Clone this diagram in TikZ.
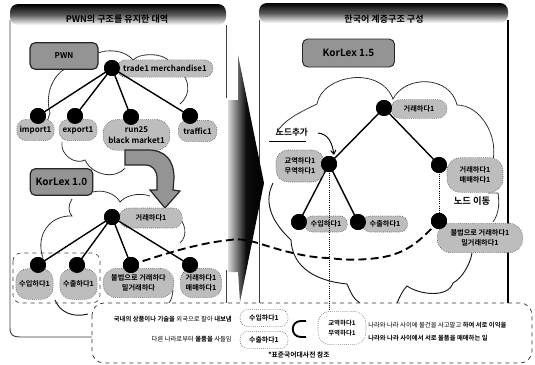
\documentclass[tikz,border=0pt]{standalone}
\usepackage{fontspec}
\setmainfont{Noto Sans CJK KR}[BoldFont={Noto Sans CJK KR Bold}]
\usetikzlibrary{arrows.meta,shadings}
\definecolor{halft}{gray}{0.74}
\definecolor{boxg}{gray}{0.58}
\tikzset{
  x=0.75pt,y=-0.75pt,
  dot/.style={circle,fill=black,draw=black,inner sep=0pt,minimum size=11.5pt},
  lbl/.style={rounded corners=7pt,fill=halft,draw=black!70,densely dotted,line width=0.45pt,inner sep=0pt,align=center,font=\fontsize{5.4pt}{7.4pt}\selectfont\bfseries},
  latin/.style={font=\fontsize{6pt}{8pt}\selectfont\bfseries},
  verbox/.style={rounded corners=4pt,fill=boxg,draw=black!85,line width=0.9pt,inner sep=0pt,font=\fontsize{7.5pt}{9pt}\selectfont\bfseries},
  edge/.style={line width=1.05pt,black},
  cloudline/.style={line width=0.6pt,black!85,dash pattern=on 1.2pt off 0.3pt},
  panel/.style={line width=0.7pt,black!75},
  dotted link/.style={line width=0.6pt,black,densely dotted},
  movedash/.style={line width=1.4pt,black,dash pattern=on 6pt off 3.2pt},
  title/.style={font=\fontsize{6.8pt}{8pt}\selectfont\bfseries,inner sep=0.5pt},
  bodytext/.style={font=\fontsize{4.75pt}{6pt}\selectfont,inner sep=0pt,text=black},
  pilla/.style={rounded corners=5pt,draw=black!70,densely dotted,line width=0.45pt,fill=white,inner sep=0pt,font=\fontsize{5.2pt}{7pt}\selectfont\bfseries,align=center}
}
\begin{document}
\begin{tikzpicture}
\useasboundingbox (0,0) rectangle (535,364);
\fill[white] (0,0) rectangle (535,364);

% --- left panel
\draw[panel] (226,25) -- (226,98);
\draw[panel] (226,270) -- (226,303);
\draw[panel] (10,20) -- (10,328) .. controls (10,335) and (13,337) .. (20,337) -- (92,337);
\shade[top color=black,bottom color=white,middle color=black!65,rounded corners=6pt]
  (10,25) -- (10,4) -- (226,4) -- (226,25) -- cycle;
\node[title] (ltitle) at (117,19.5) {PWN의 구조를 유지한 대역};

% --- right panel
\draw[panel,line width=0.5pt] (259,20) -- (259,303);
\draw[line width=1.3pt,black] (508,20) -- (508,303);
\shade[top color=black,bottom color=white,middle color=black!65,rounded corners=6pt]
  (259,23) -- (259,3) -- (508,3) -- (508,23) -- cycle;
\node[title] (rtitle) at (384,19.5) {한국어 계층구조 구성};

% --- clouds
\draw[cloudline] (98,53) .. controls (108,49) and (125,50) .. (133,60)
  .. controls (140,52) and (170,52) .. (172,67)
  .. controls (188,72) and (194,92) .. (180,104);
\draw[cloudline] (72,66) .. controls (55,70) and (44,92) .. (50,113) (50,113) -- (46,125);
\draw[cloudline] (62,142) .. controls (60,155) and (75,165) .. (85,160)
  .. controls (92,175) and (115,180) .. (125,168);
\draw[cloudline] (93,192) .. controls (103,189) and (116,194) .. (120,202)
  .. controls (125,196) and (138,192) .. (150,196);
\draw[cloudline] (176,215) .. controls (186,222) and (188,236) .. (180,243);
\draw[cloudline] (72,199) .. controls (68,205) and (68,212) .. (72,216)
  .. controls (50,215) and (35,235) .. (43,258);
\draw[line width=0.7pt,black!90] (55,300) .. controls (60,312) and (72,318) .. (88,314);
\draw[cloudline] (173,290) .. controls (172,296) and (172,300) .. (168,304);
% right cloud
\draw[cloudline] (276,135) .. controls (280,122) and (300,112) .. (317,104)
  .. controls (322,75) and (380,65) .. (393,99)
  .. controls (405,75) and (450,75) .. (457,105)
  .. controls (480,105) and (498,135) .. (493,160);
\draw[cloudline] (488,193) -- (498,193) .. controls (500,205) and (498,215) .. (493,222);
\draw[line width=0.7pt,black!90] (273,183) .. controls (262,205) and (275,225) .. (291,240)
  .. controls (292,262) and (308,280) .. (347,284)
  .. controls (350,290) and (352,298) .. (360,303);
\draw[line width=0.7pt,black!90] (397,303) .. controls (400,296) and (403,290) .. (407,286)
  .. controls (420,295) and (448,298) .. (453,283)
  .. controls (462,278) and (470,265) .. (472,253);

% --- big arrow
\shade[left color=black!15,right color=black,middle color=black!95]
  (228,100) -- (238,100) -- (238,55) -- (264,183) -- (240,302) -- (238,272) -- (228,272) -- cycle;

% --- left top tree
\node[verbox,minimum width=51pt,minimum height=20pt,font=\fontsize{6pt}{8pt}\selectfont\bfseries] (pwn) at (64,56) {PWN};
\node[dot] (t0) at (112,68) {};
\node[lbl,latin,minimum width=72pt,minimum height=13pt,rounded corners=6.4pt] (t0l) at (165,68.5) {trade1 merchandise1};
\node[dot] (t1) at (38,116) {};
\node[dot] (t2) at (75,116) {};
\node[dot] (t3) at (131,117) {};
\node[dot] (t4) at (190,116) {};
\draw[edge] (t0.center) -- (t1.center);
\draw[edge] (t0.center) -- (t2.center);
\draw[edge] (t0.center) -- (t3.center);
\draw[edge] (t0.center) -- (t4.center);
\node[lbl,latin,minimum width=28pt,minimum height=16pt] (t1l) at (35.5,130) {import1};
\node[lbl,latin,minimum width=28.5pt,minimum height=16pt] (t2l) at (78,130) {export1};
\node[lbl,latin,minimum width=50pt,minimum height=23pt,rounded corners=10pt] (t3l) at (136.5,135) {run25\\black market1};
\node[lbl,latin,minimum width=29pt,minimum height=16pt] (t4l) at (197.5,131) {traffic1};
\node[dot] at (t1) {};\node[dot] at (t2) {};\node[dot] at (t3) {};\node[dot] at (t4) {};\node[dot] at (t0) {};

% --- curved block arrow
\draw[line width=0.9pt,black!85,fill=boxg]
  (125,150) -- (148,150) .. controls (165,150) and (174,160) .. (174,178)
  -- (173,190) -- (180,191) -- (165,208) -- (150,190) -- (157,190) -- (157,178)
  .. controls (157,170) and (152,165) .. (146,165) -- (125,165) -- cycle;

% --- left lower tree
\node[verbox,minimum width=47pt,minimum height=20pt] (kl10) at (61.5,182) {KorLex 1.0};
\node[dot] (b0) at (112,217) {};
\node[lbl,minimum width=47pt,minimum height=15pt] (b0l) at (151,218) {거래하다1};
\node[dot] (b1) at (38,265) {};
\node[dot] (b2) at (77,265) {};
\node[dot] (b3) at (131,265) {};
\node[dot] (b4) at (190,265) {};
\draw[edge] (b0.center) -- (b1.center);
\draw[edge] (b0.center) -- (b2.center);
\draw[edge] (b0.center) -- (b3.center);
\draw[edge] (b0.center) -- (b4.center);
\node[lbl,minimum width=28pt,minimum height=23pt,rounded corners=9pt] (b1l) at (34.5,284) {수입하다1};
\node[lbl,minimum width=28pt,minimum height=23pt,rounded corners=9pt] (b2l) at (78.5,284) {수출하다1};
\node[lbl,minimum width=53pt,minimum height=22pt,rounded corners=10pt] (b3l) at (138.5,283) {불법으로 거래하다\\밀거래하다};
\node[lbl,minimum width=31pt,minimum height=22pt,rounded corners=9pt] (b4l) at (201,283) {거래하다1\\매매하다1};
\node[dot] at (b0) {};\node[dot] at (b1) {};\node[dot] at (b2) {};\node[dot] at (b3) {};\node[dot] at (b4) {};
\draw[line width=0.5pt,black!75,dashed,rounded corners=6pt] (13,253) rectangle (100,303);

% --- right tree
\node[verbox,line width=0.7pt,minimum width=69pt,minimum height=21pt] (kl15) at (348.5,53) {KorLex 1.5};
\node[dot] (r0) at (384,108) {};
\node[lbl,minimum width=42pt,minimum height=14pt] (r0l) at (419,109) {거래하다1};
\node[dot] (r1) at (329,164) {};
\node[dot] (r2) at (439,165) {};
\node[dot] (r3) at (299,222) {};
\node[dot] (r4) at (358,222) {};
\node[dot] (r5) at (439,221) {};
\draw[edge] (r0.center) -- (r1.center);
\draw[edge] (r0.center) -- (r2.center);
\draw[edge] (r1.center) -- (r3.center);
\draw[edge] (r1.center) -- (r4.center);
\draw[dotted link] (r2.center) -- (r5.center);
\node[lbl,minimum width=36pt,minimum height=24pt,rounded corners=9pt] (r1l) at (300,166) {교역하다1\\무역하다1};
\node[lbl,minimum width=42pt,minimum height=26pt,rounded corners=10pt] (r2l) at (475,175) {거래하다1\\매매하다1};
\node[lbl,minimum width=32pt,minimum height=12pt,rounded corners=5.8pt] (r3l) at (326,224) {수입하다1};
\node[lbl,minimum width=34pt,minimum height=12pt,rounded corners=5.8pt] (r4l) at (385,224) {수출하다1};
\node[lbl,minimum width=64pt,minimum height=22pt,rounded corners=10pt] (r5l) at (480,238) {불법으로 거래하다1\\밀거래하다1};
\foreach \n in {r0,r1,r2,r3,r4,r5} \node[dot] at (\n) {};
\node[font=\fontsize{6.5pt}{8pt}\selectfont\bfseries,inner sep=0pt] (add) at (292,132) {노드추가};
\coordinate (addA) at (269,141);
\coordinate (addB) at (306,141);
\draw[line width=0.6pt] (addA) -- (addB);
\coordinate (addS) at (318,133);
\draw[line width=0.7pt,-{Straight Barb[length=3pt,width=4pt]}] (addS) .. controls (328,134) and (332,142) .. (334,155);
\node[font=\fontsize{7pt}{9pt}\selectfont\bfseries,inner sep=0pt] (mv) at (472,201) {노드 이동};

% --- bottom box
\draw[line width=0.55pt,black!80,dashed,fill=white,rounded corners=9pt] (92,303) rectangle (532,363);
\coordinate (dashA) at (230,240);
\coordinate (dashB) at (258,243);
\coordinate (dashC) at (330,258);
\coordinate (dashD) at (395,254);
\draw[movedash] (b3.center) .. controls (170,252) and (200,243) .. (dashA)
  .. controls (240,238) and (250,241) .. (dashB)
  .. controls (285,252) and (310,258) .. (dashC)
  .. controls (355,262) and (385,258) .. (dashD)
  .. controls (415,247) and (425,235) .. (r5.center);
\node[dot] at (r5) {};\node[dot] at (b3) {};
\node[lbl,minimum width=36pt,minimum height=25pt,fill=white,draw=black!70,rounded corners=9pt,font=\fontsize{4.8pt}{8pt}\selectfont\bfseries] (defr) at (342,328) {교역하다1\\무역하다1};
\draw[dotted link] (r1.center) -- (defr.north -| r1);
\node[dot] at (r1) {};
\node[pilla,minimum width=36pt,minimum height=13pt,rounded corners=6pt] (defa) at (264,318) {수입하다1};
\node[pilla,minimum width=36pt,minimum height=13pt,rounded corners=6pt] (defb) at (264,340) {수출하다1};
\node[bodytext,anchor=east] (ta) at (232,319) {\textbf{국내의 상품이나 기술을} 외국으로 팔아 \textbf{내보냄}};
\node[bodytext,anchor=east] (tb) at (232,339) {다른 나라로부터 \textbf{물품을} 사들임};
\node[bodytext,anchor=west] (tc) at (368,325) {나라와 나라 사이에 물건을 사고팔고 \textbf{하여 서로 이익을}};
\node[bodytext,anchor=west] (td) at (368,338) {\textbf{나라와 나라 사이에서 서로 물품을 매매하는 일}};
\node[bodytext,anchor=west,font=\fontsize{5.1pt}{6pt}\selectfont\bfseries] (te) at (268,355) {*표준국어대사전 참조};
\draw[line width=1.4pt,black] (306,321) -- (301,321) .. controls (290,321) and (290,337) .. (301,337) -- (306,337);
\end{tikzpicture}
\end{document}
